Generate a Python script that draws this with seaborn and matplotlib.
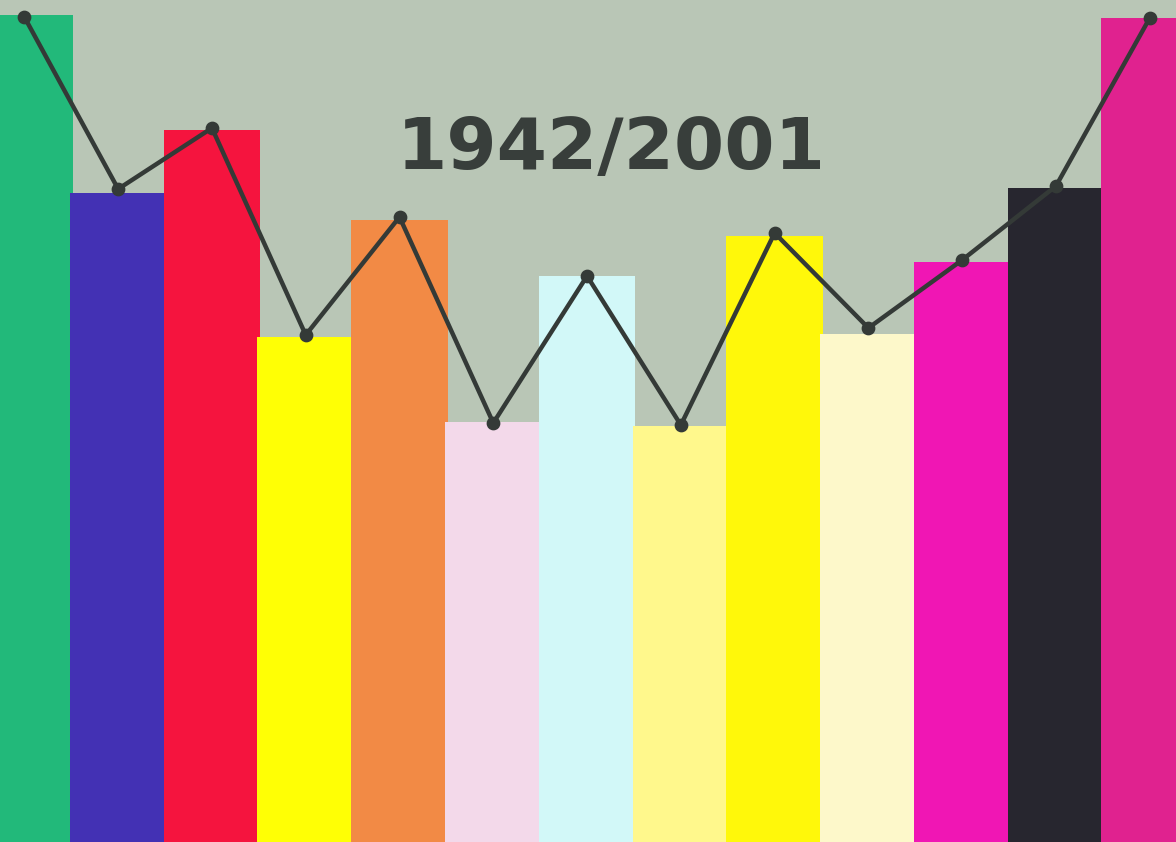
import pandas as pd
import matplotlib.pyplot as plt
import seaborn as sns

# Bars, left to right (0 = bottom edge)
categories = ["c01", "c02", "c03", "c04", "c05", "c06", "c07",
              "c08", "c09", "c10", "c11", "c12", "c13"]
bar_values = [827, 649, 712, 505, 622, 420, 566, 416, 606, 508, 580, 654, 824]
line_values = [825, 653, 714, 507, 625, 419, 566, 417, 609, 514, 582, 656, 824]
bar_colors = ["#22b97a", "#4331b4", "#f5143e", "#ffff05", "#f28a45", "#f3d9ea",
              "#d2f8f8", "#fff88c", "#fff80a", "#fdf8ca", "#f016b4", "#27262f",
              "#e0228f"]
title = "1942/2001"

df = pd.DataFrame({"cat": categories, "bar": bar_values, "line": line_values})

bg = "#b9c6b6"
fig = plt.figure(figsize=(11.76, 8.42), dpi=100, facecolor=bg)
ax = fig.add_axes([0, 0, 1, 1])
ax.set_facecolor(bg)

sns.barplot(data=df, x="cat", y="bar", hue="cat", palette=bar_colors,
            width=1.03, saturation=1, legend=False, ax=ax, zorder=2)

sns.pointplot(data=df, x="cat", y="line", color="#343a37", markers="o",
              linestyles="-", errorbar=None, ax=ax,
              markersize=7.5, linewidth=3.2)
for coll in ax.collections + ax.lines:
    coll.set_zorder(4)

ax.text(0.52, 0.822, title, transform=ax.transAxes, ha="center", va="center",
        fontsize=52, fontweight="bold", family="DejaVu Sans", color="#383e3b",
        zorder=1)

ax.set_xlim(-0.26, 12.28)
ax.set_ylim(0, 842)
ax.axis("off")

fig.savefig("out.png", dpi=100, facecolor=bg)
